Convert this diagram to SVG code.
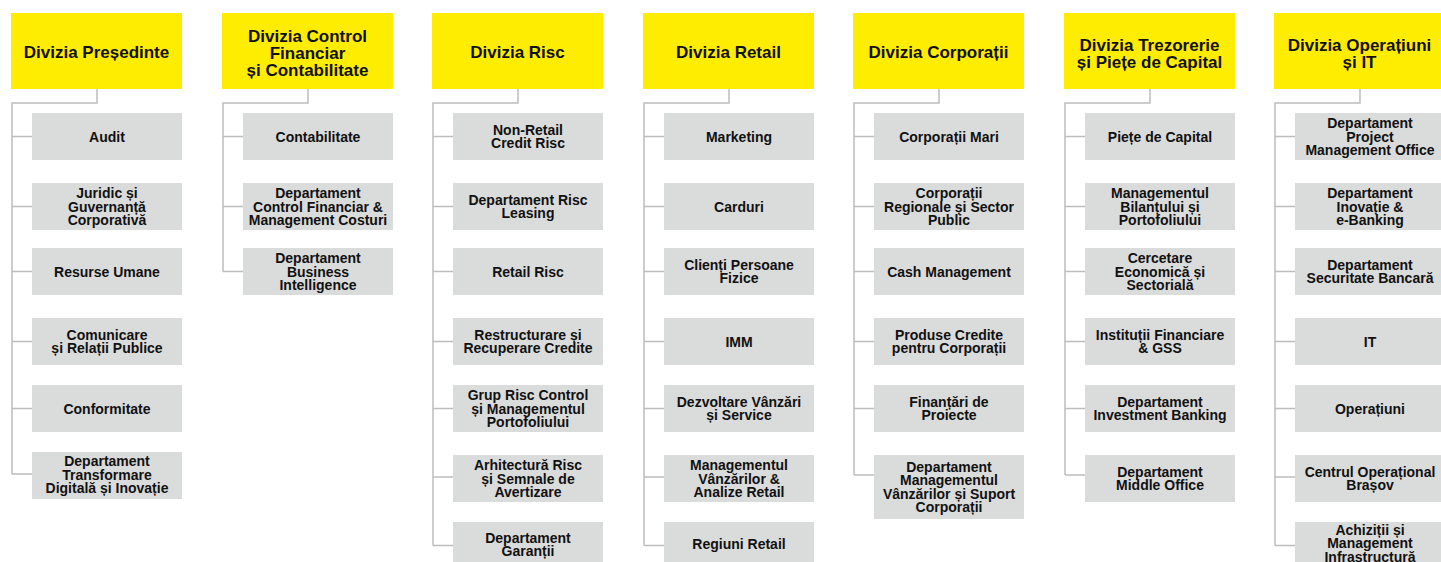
<svg xmlns="http://www.w3.org/2000/svg" width="1441" height="562" viewBox="0 0 1441 562">
  <style>
    .hdr { fill: #FFED00; }
    .box { fill: #DADBDB; }
    .ht { font-family: "Liberation Sans", Arial, sans-serif; font-weight: bold; font-size: 17px; fill: #111111; text-anchor: middle; }
    .bt { font-family: "Liberation Sans", Arial, sans-serif; font-weight: bold; font-size: 14px; fill: #111111; text-anchor: middle; }
    .conn { fill: none; stroke: #BDBDBD; stroke-width: 1.5; }
  </style>
  <rect width="1441" height="562" fill="#FFFFFF"/>

  <!-- tree connectors: header drop, spine, and a stub to each department -->
  <g id="connectors" class="conn">
    <path d="M97 89 V103 H12 V474 M12 136.5 H32 M12 206.5 H32 M12 271.5 H32 M12 341.5 H32 M12 408.5 H32 M12 474 H32"/>
    <path d="M308 89 V103 H223 V271.5 M223 136.5 H243 M223 206.5 H243 M223 271.5 H243"/>
    <path d="M518 89 V103 H433 V545.5 M433 136.5 H453 M433 206.5 H453 M433 271.5 H453 M433 341.5 H453 M433 408.5 H453 M433 477 H453 M433 545.5 H453"/>
    <path d="M729 89 V103 H644 V545.5 M644 136.5 H664 M644 206.5 H664 M644 271.5 H664 M644 341.5 H664 M644 408.5 H664 M644 477 H664 M644 545.5 H664"/>
    <path d="M939 89 V103 H854 V475 M854 136.5 H874 M854 206.5 H874 M854 271.5 H874 M854 341.5 H874 M854 408.5 H874 M854 475 H874"/>
    <path d="M1150 89 V103 H1065 V475 M1065 136.5 H1085 M1065 206.5 H1085 M1065 271.5 H1085 M1065 341.5 H1085 M1065 408.5 H1085 M1065 475 H1085"/>
    <path d="M1360 89 V103 H1275 V545.5 M1275 136.5 H1295 M1275 206.5 H1295 M1275 271.5 H1295 M1275 341.5 H1295 M1275 408.5 H1295 M1275 477 H1295 M1275 545.5 H1295"/>
  </g>

  <!-- Divizia Președinte -->
  <g id="div-presedinte">
    <rect class="hdr" x="11" y="13" width="171" height="76"/>
    <text class="ht" x="96.5" y="57.5">Divizia Președinte</text>
  </g>
  <g id="audit"><rect class="box" x="32" y="113" width="150" height="47"/><text class="bt" x="107" y="141.5">Audit</text></g>
  <g id="juridic"><rect class="box" x="32" y="183" width="150" height="47"/><text class="bt" x="107"><tspan x="107" y="198">Juridic și</tspan><tspan x="107" y="211.5">Guvernanță</tspan><tspan x="107" y="225">Corporativă</tspan></text></g>
  <g id="resurse-umane"><rect class="box" x="32" y="248" width="150" height="47"/><text class="bt" x="107" y="276.5">Resurse Umane</text></g>
  <g id="comunicare"><rect class="box" x="32" y="318" width="150" height="47"/><text class="bt" x="107"><tspan x="107" y="339.75">Comunicare</tspan><tspan x="107" y="353.25">și Relații Publice</tspan></text></g>
  <g id="conformitate"><rect class="box" x="32" y="385" width="150" height="47"/><text class="bt" x="107" y="413.5">Conformitate</text></g>
  <g id="transformare-digitala"><rect class="box" x="32" y="452" width="150" height="47"/><text class="bt" x="107"><tspan x="107" y="466">Departament</tspan><tspan x="107" y="479.5">Transformare</tspan><tspan x="107" y="493">Digitală și Inovație</tspan></text></g>

  <!-- Divizia Control Financiar și Contabilitate -->
  <g id="div-control-financiar">
    <rect class="hdr" x="222" y="13" width="171" height="76"/>
    <text class="ht" x="307.5"><tspan x="307.5" y="41.5">Divizia Control</tspan><tspan x="307.5" y="58.5">Financiar</tspan><tspan x="307.5" y="75.5">și Contabilitate</tspan></text>
  </g>
  <g id="contabilitate"><rect class="box" x="243" y="113" width="150" height="47"/><text class="bt" x="318" y="141.5">Contabilitate</text></g>
  <g id="control-financiar"><rect class="box" x="243" y="183" width="150" height="47"/><text class="bt" x="318"><tspan x="318" y="198">Departament</tspan><tspan x="318" y="211.5">Control Financiar &amp;</tspan><tspan x="318" y="225">Management Costuri</tspan></text></g>
  <g id="business-intelligence"><rect class="box" x="243" y="248" width="150" height="47"/><text class="bt" x="318"><tspan x="318" y="263">Departament</tspan><tspan x="318" y="276.5">Business</tspan><tspan x="318" y="290">Intelligence</tspan></text></g>

  <!-- Divizia Risc -->
  <g id="div-risc">
    <rect class="hdr" x="432" y="13" width="171" height="76"/>
    <text class="ht" x="517.5" y="57.5">Divizia Risc</text>
  </g>
  <g id="non-retail-risc"><rect class="box" x="453" y="113" width="150" height="47"/><text class="bt" x="528"><tspan x="528" y="134.75">Non-Retail</tspan><tspan x="528" y="148.25">Credit Risc</tspan></text></g>
  <g id="risc-leasing"><rect class="box" x="453" y="183" width="150" height="47"/><text class="bt" x="528"><tspan x="528" y="204.75">Departament Risc</tspan><tspan x="528" y="218.25">Leasing</tspan></text></g>
  <g id="retail-risc"><rect class="box" x="453" y="248" width="150" height="47"/><text class="bt" x="528" y="276.5">Retail Risc</text></g>
  <g id="restructurare"><rect class="box" x="453" y="318" width="150" height="47"/><text class="bt" x="528"><tspan x="528" y="339.75">Restructurare și</tspan><tspan x="528" y="353.25">Recuperare Credite</tspan></text></g>
  <g id="grup-risc-control"><rect class="box" x="453" y="385" width="150" height="47"/><text class="bt" x="528"><tspan x="528" y="400">Grup Risc Control</tspan><tspan x="528" y="413.5">și Managementul</tspan><tspan x="528" y="427">Portofoliului</tspan></text></g>
  <g id="arhitectura-risc"><rect class="box" x="453" y="455" width="150" height="47"/><text class="bt" x="528"><tspan x="528" y="470">Arhitectură Risc</tspan><tspan x="528" y="483.5">și Semnale de</tspan><tspan x="528" y="497">Avertizare</tspan></text></g>
  <g id="garantii"><rect class="box" x="453" y="522" width="150" height="47"/><text class="bt" x="528"><tspan x="528" y="542.75">Departament</tspan><tspan x="528" y="556.25">Garanții</tspan></text></g>

  <!-- Divizia Retail -->
  <g id="div-retail">
    <rect class="hdr" x="643" y="13" width="171" height="76"/>
    <text class="ht" x="728.5" y="57.5">Divizia Retail</text>
  </g>
  <g id="marketing"><rect class="box" x="664" y="113" width="150" height="47"/><text class="bt" x="739" y="141.5">Marketing</text></g>
  <g id="carduri"><rect class="box" x="664" y="183" width="150" height="47"/><text class="bt" x="739" y="211.5">Carduri</text></g>
  <g id="clienti-pf"><rect class="box" x="664" y="248" width="150" height="47"/><text class="bt" x="739"><tspan x="739" y="269.75">Clienți Persoane</tspan><tspan x="739" y="283.25">Fizice</tspan></text></g>
  <g id="imm"><rect class="box" x="664" y="318" width="150" height="47"/><text class="bt" x="739" y="346.5">IMM</text></g>
  <g id="dezvoltare-vanzari"><rect class="box" x="664" y="385" width="150" height="47"/><text class="bt" x="739"><tspan x="739" y="406.75">Dezvoltare Vânzări</tspan><tspan x="739" y="420.25">și Service</tspan></text></g>
  <g id="managementul-vanzarilor"><rect class="box" x="664" y="455" width="150" height="47"/><text class="bt" x="739"><tspan x="739" y="470">Managementul</tspan><tspan x="739" y="483.5">Vânzărilor &amp;</tspan><tspan x="739" y="497">Analize Retail</tspan></text></g>
  <g id="regiuni-retail"><rect class="box" x="664" y="522" width="150" height="47"/><text class="bt" x="739" y="549">Regiuni Retail</text></g>

  <!-- Divizia Corporații -->
  <g id="div-corporatii">
    <rect class="hdr" x="853" y="13" width="171" height="76"/>
    <text class="ht" x="938.5" y="57.5">Divizia Corporații</text>
  </g>
  <g id="corporatii-mari"><rect class="box" x="874" y="113" width="150" height="47"/><text class="bt" x="949" y="141.5">Corporații Mari</text></g>
  <g id="corporatii-regionale"><rect class="box" x="874" y="183" width="150" height="47"/><text class="bt" x="949"><tspan x="949" y="198">Corporații</tspan><tspan x="949" y="211.5">Regionale și Sector</tspan><tspan x="949" y="225">Public</tspan></text></g>
  <g id="cash-management"><rect class="box" x="874" y="248" width="150" height="47"/><text class="bt" x="949" y="276.5">Cash Management</text></g>
  <g id="produse-credite"><rect class="box" x="874" y="318" width="150" height="47"/><text class="bt" x="949"><tspan x="949" y="339.75">Produse Credite</tspan><tspan x="949" y="353.25">pentru Corporații</tspan></text></g>
  <g id="finantari-proiecte"><rect class="box" x="874" y="385" width="150" height="47"/><text class="bt" x="949"><tspan x="949" y="406.75">Finanțări de</tspan><tspan x="949" y="420.25">Proiecte</tspan></text></g>
  <g id="suport-corporatii"><rect class="box" x="874" y="455" width="150" height="64"/><text class="bt" x="949"><tspan x="949" y="471.5">Departament</tspan><tspan x="949" y="485">Managementul</tspan><tspan x="949" y="498.5">Vânzărilor și Suport</tspan><tspan x="949" y="512">Corporații</tspan></text></g>

  <!-- Divizia Trezorerie și Piețe de Capital -->
  <g id="div-trezorerie">
    <rect class="hdr" x="1064" y="13" width="171" height="76"/>
    <text class="ht" x="1149.5"><tspan x="1149.5" y="50.5">Divizia Trezorerie</tspan><tspan x="1149.5" y="67.5">și Piețe de Capital</tspan></text>
  </g>
  <g id="piete-capital"><rect class="box" x="1085" y="113" width="150" height="47"/><text class="bt" x="1160" y="141.5">Piețe de Capital</text></g>
  <g id="management-bilant"><rect class="box" x="1085" y="183" width="150" height="47"/><text class="bt" x="1160"><tspan x="1160" y="198">Managementul</tspan><tspan x="1160" y="211.5">Bilanțului și</tspan><tspan x="1160" y="225">Portofoliului</tspan></text></g>
  <g id="cercetare"><rect class="box" x="1085" y="248" width="150" height="47"/><text class="bt" x="1160"><tspan x="1160" y="263">Cercetare</tspan><tspan x="1160" y="276.5">Economică și</tspan><tspan x="1160" y="290">Sectorială</tspan></text></g>
  <g id="institutii-financiare"><rect class="box" x="1085" y="318" width="150" height="47"/><text class="bt" x="1160"><tspan x="1160" y="339.75">Instituții Financiare</tspan><tspan x="1160" y="353.25">&amp; GSS</tspan></text></g>
  <g id="investment-banking"><rect class="box" x="1085" y="385" width="150" height="47"/><text class="bt" x="1160"><tspan x="1160" y="406.75">Departament</tspan><tspan x="1160" y="420.25">Investment Banking</tspan></text></g>
  <g id="middle-office"><rect class="box" x="1085" y="455" width="150" height="47"/><text class="bt" x="1160"><tspan x="1160" y="476.75">Departament</tspan><tspan x="1160" y="490.25">Middle Office</tspan></text></g>

  <!-- Divizia Operațiuni și IT -->
  <g id="div-operatiuni">
    <rect class="hdr" x="1274" y="13" width="171" height="76"/>
    <text class="ht" x="1359.5"><tspan x="1359.5" y="50.5">Divizia Operațiuni</tspan><tspan x="1359.5" y="67.5">și IT</tspan></text>
  </g>
  <g id="pmo"><rect class="box" x="1295" y="113" width="150" height="47"/><text class="bt" x="1370"><tspan x="1370" y="128">Departament</tspan><tspan x="1370" y="141.5">Project</tspan><tspan x="1370" y="155">Management Office</tspan></text></g>
  <g id="inovatie"><rect class="box" x="1295" y="183" width="150" height="47"/><text class="bt" x="1370"><tspan x="1370" y="198">Departament</tspan><tspan x="1370" y="211.5">Inovație &amp;</tspan><tspan x="1370" y="225">e-Banking</tspan></text></g>
  <g id="securitate"><rect class="box" x="1295" y="248" width="150" height="47"/><text class="bt" x="1370"><tspan x="1370" y="269.75">Departament</tspan><tspan x="1370" y="283.25">Securitate Bancară</tspan></text></g>
  <g id="it"><rect class="box" x="1295" y="318" width="150" height="47"/><text class="bt" x="1370" y="346.5">IT</text></g>
  <g id="operatiuni"><rect class="box" x="1295" y="385" width="150" height="47"/><text class="bt" x="1370" y="413.5">Operațiuni</text></g>
  <g id="centrul-brasov"><rect class="box" x="1295" y="455" width="150" height="47"/><text class="bt" x="1370"><tspan x="1370" y="476.75">Centrul Operațional</tspan><tspan x="1370" y="490.25">Brașov</tspan></text></g>
  <g id="achizitii"><rect class="box" x="1295" y="522" width="150" height="47"/><text class="bt" x="1370"><tspan x="1370" y="534.5">Achiziții și</tspan><tspan x="1370" y="548">Management</tspan><tspan x="1370" y="561.5">Infrastructură</tspan></text></g>
</svg>
